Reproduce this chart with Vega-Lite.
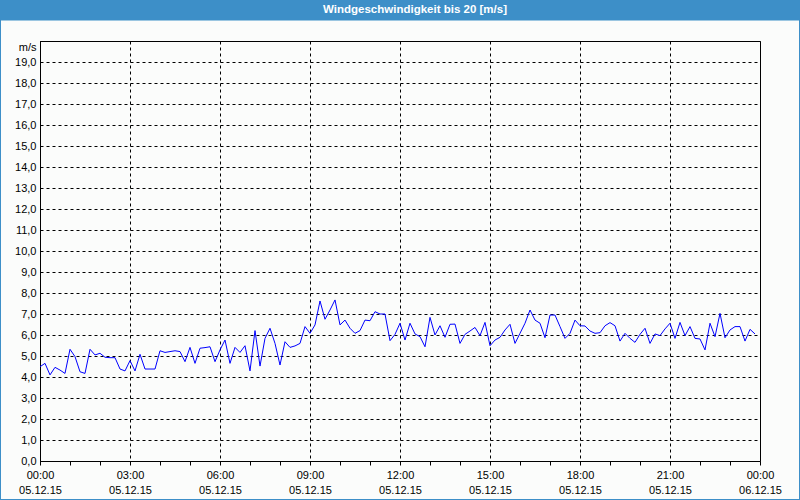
{
  "$schema": "https://vega.github.io/schema/vega-lite/v6.json",
  "background": "#fbfcfb",
  "width": 720,
  "height": 420,
  "autosize": {"type": "none"},
  "padding": {"left": 40, "top": 41, "right": 40, "bottom": 39},
  "config": {"font": "Liberation Sans", "view": {"stroke": "black"}},
  "layer": [
    {
      "data": {"values": [
        {"t": "2015-12-05T00:00:00Z", "v": 4.49},
        {"t": "2015-12-05T00:10:00Z", "v": 4.65},
        {"t": "2015-12-05T00:20:00Z", "v": 4.10},
        {"t": "2015-12-05T00:30:00Z", "v": 4.46},
        {"t": "2015-12-05T00:40:00Z", "v": 4.33},
        {"t": "2015-12-05T00:50:00Z", "v": 4.17},
        {"t": "2015-12-05T01:00:00Z", "v": 5.32},
        {"t": "2015-12-05T01:10:00Z", "v": 4.97},
        {"t": "2015-12-05T01:20:00Z", "v": 4.25},
        {"t": "2015-12-05T01:30:00Z", "v": 4.17},
        {"t": "2015-12-05T01:40:00Z", "v": 5.32},
        {"t": "2015-12-05T01:50:00Z", "v": 5.05},
        {"t": "2015-12-05T02:00:00Z", "v": 5.13},
        {"t": "2015-12-05T02:10:00Z", "v": 4.94},
        {"t": "2015-12-05T02:20:00Z", "v": 4.92},
        {"t": "2015-12-05T02:30:00Z", "v": 4.92},
        {"t": "2015-12-05T02:40:00Z", "v": 4.38},
        {"t": "2015-12-05T02:50:00Z", "v": 4.29},
        {"t": "2015-12-05T03:00:00Z", "v": 4.78},
        {"t": "2015-12-05T03:10:00Z", "v": 4.29},
        {"t": "2015-12-05T03:20:00Z", "v": 5.08},
        {"t": "2015-12-05T03:30:00Z", "v": 4.38},
        {"t": "2015-12-05T03:40:00Z", "v": 4.38},
        {"t": "2015-12-05T03:50:00Z", "v": 4.38},
        {"t": "2015-12-05T04:00:00Z", "v": 5.25},
        {"t": "2015-12-05T04:10:00Z", "v": 5.17},
        {"t": "2015-12-05T04:20:00Z", "v": 5.21},
        {"t": "2015-12-05T04:30:00Z", "v": 5.25},
        {"t": "2015-12-05T04:40:00Z", "v": 5.21},
        {"t": "2015-12-05T04:50:00Z", "v": 4.73},
        {"t": "2015-12-05T05:00:00Z", "v": 5.41},
        {"t": "2015-12-05T05:10:00Z", "v": 4.65},
        {"t": "2015-12-05T05:20:00Z", "v": 5.37},
        {"t": "2015-12-05T05:30:00Z", "v": 5.40},
        {"t": "2015-12-05T05:40:00Z", "v": 5.44},
        {"t": "2015-12-05T05:50:00Z", "v": 4.73},
        {"t": "2015-12-05T06:00:00Z", "v": 5.29},
        {"t": "2015-12-05T06:10:00Z", "v": 5.76},
        {"t": "2015-12-05T06:20:00Z", "v": 4.65},
        {"t": "2015-12-05T06:30:00Z", "v": 5.41},
        {"t": "2015-12-05T06:40:00Z", "v": 5.17},
        {"t": "2015-12-05T06:50:00Z", "v": 5.49},
        {"t": "2015-12-05T07:00:00Z", "v": 4.29},
        {"t": "2015-12-05T07:10:00Z", "v": 6.21},
        {"t": "2015-12-05T07:20:00Z", "v": 4.52},
        {"t": "2015-12-05T07:30:00Z", "v": 5.84},
        {"t": "2015-12-05T07:40:00Z", "v": 6.32},
        {"t": "2015-12-05T07:50:00Z", "v": 5.60},
        {"t": "2015-12-05T08:00:00Z", "v": 4.57},
        {"t": "2015-12-05T08:10:00Z", "v": 5.68},
        {"t": "2015-12-05T08:20:00Z", "v": 5.41},
        {"t": "2015-12-05T08:30:00Z", "v": 5.48},
        {"t": "2015-12-05T08:40:00Z", "v": 5.60},
        {"t": "2015-12-05T08:50:00Z", "v": 6.40},
        {"t": "2015-12-05T09:00:00Z", "v": 6.08},
        {"t": "2015-12-05T09:10:00Z", "v": 6.48},
        {"t": "2015-12-05T09:20:00Z", "v": 7.62},
        {"t": "2015-12-05T09:30:00Z", "v": 6.75},
        {"t": "2015-12-05T09:40:00Z", "v": 7.19},
        {"t": "2015-12-05T09:50:00Z", "v": 7.67},
        {"t": "2015-12-05T10:00:00Z", "v": 6.48},
        {"t": "2015-12-05T10:10:00Z", "v": 6.71},
        {"t": "2015-12-05T10:20:00Z", "v": 6.32},
        {"t": "2015-12-05T10:30:00Z", "v": 6.08},
        {"t": "2015-12-05T10:40:00Z", "v": 6.21},
        {"t": "2015-12-05T10:50:00Z", "v": 6.71},
        {"t": "2015-12-05T11:00:00Z", "v": 6.68},
        {"t": "2015-12-05T11:10:00Z", "v": 7.11},
        {"t": "2015-12-05T11:20:00Z", "v": 7.00},
        {"t": "2015-12-05T11:30:00Z", "v": 7.00},
        {"t": "2015-12-05T11:40:00Z", "v": 5.73},
        {"t": "2015-12-05T11:50:00Z", "v": 6.03},
        {"t": "2015-12-05T12:00:00Z", "v": 6.56},
        {"t": "2015-12-05T12:10:00Z", "v": 5.76},
        {"t": "2015-12-05T12:20:00Z", "v": 6.56},
        {"t": "2015-12-05T12:30:00Z", "v": 6.05},
        {"t": "2015-12-05T12:40:00Z", "v": 5.92},
        {"t": "2015-12-05T12:50:00Z", "v": 5.44},
        {"t": "2015-12-05T13:00:00Z", "v": 6.84},
        {"t": "2015-12-05T13:10:00Z", "v": 6.00},
        {"t": "2015-12-05T13:20:00Z", "v": 6.44},
        {"t": "2015-12-05T13:30:00Z", "v": 5.89},
        {"t": "2015-12-05T13:40:00Z", "v": 6.51},
        {"t": "2015-12-05T13:50:00Z", "v": 6.52},
        {"t": "2015-12-05T14:00:00Z", "v": 5.60},
        {"t": "2015-12-05T14:10:00Z", "v": 6.03},
        {"t": "2015-12-05T14:20:00Z", "v": 6.19},
        {"t": "2015-12-05T14:30:00Z", "v": 6.36},
        {"t": "2015-12-05T14:40:00Z", "v": 5.97},
        {"t": "2015-12-05T14:50:00Z", "v": 6.60},
        {"t": "2015-12-05T15:00:00Z", "v": 5.49},
        {"t": "2015-12-05T15:10:00Z", "v": 5.76},
        {"t": "2015-12-05T15:20:00Z", "v": 5.89},
        {"t": "2015-12-05T15:30:00Z", "v": 6.24},
        {"t": "2015-12-05T15:40:00Z", "v": 6.51},
        {"t": "2015-12-05T15:50:00Z", "v": 5.60},
        {"t": "2015-12-05T16:00:00Z", "v": 6.08},
        {"t": "2015-12-05T16:10:00Z", "v": 6.56},
        {"t": "2015-12-05T16:20:00Z", "v": 7.19},
        {"t": "2015-12-05T16:30:00Z", "v": 6.71},
        {"t": "2015-12-05T16:40:00Z", "v": 6.56},
        {"t": "2015-12-05T16:50:00Z", "v": 5.87},
        {"t": "2015-12-05T17:00:00Z", "v": 6.95},
        {"t": "2015-12-05T17:10:00Z", "v": 6.95},
        {"t": "2015-12-05T17:20:00Z", "v": 6.40},
        {"t": "2015-12-05T17:30:00Z", "v": 5.84},
        {"t": "2015-12-05T17:40:00Z", "v": 6.08},
        {"t": "2015-12-05T17:50:00Z", "v": 6.71},
        {"t": "2015-12-05T18:00:00Z", "v": 6.44},
        {"t": "2015-12-05T18:10:00Z", "v": 6.43},
        {"t": "2015-12-05T18:20:00Z", "v": 6.19},
        {"t": "2015-12-05T18:30:00Z", "v": 6.08},
        {"t": "2015-12-05T18:40:00Z", "v": 6.11},
        {"t": "2015-12-05T18:50:00Z", "v": 6.44},
        {"t": "2015-12-05T19:00:00Z", "v": 6.59},
        {"t": "2015-12-05T19:10:00Z", "v": 6.44},
        {"t": "2015-12-05T19:20:00Z", "v": 5.71},
        {"t": "2015-12-05T19:30:00Z", "v": 6.08},
        {"t": "2015-12-05T19:40:00Z", "v": 5.84},
        {"t": "2015-12-05T19:50:00Z", "v": 5.65},
        {"t": "2015-12-05T20:00:00Z", "v": 6.03},
        {"t": "2015-12-05T20:10:00Z", "v": 6.32},
        {"t": "2015-12-05T20:20:00Z", "v": 5.60},
        {"t": "2015-12-05T20:30:00Z", "v": 6.05},
        {"t": "2015-12-05T20:40:00Z", "v": 5.97},
        {"t": "2015-12-05T20:50:00Z", "v": 6.29},
        {"t": "2015-12-05T21:00:00Z", "v": 6.56},
        {"t": "2015-12-05T21:10:00Z", "v": 5.84},
        {"t": "2015-12-05T21:20:00Z", "v": 6.60},
        {"t": "2015-12-05T21:30:00Z", "v": 5.97},
        {"t": "2015-12-05T21:40:00Z", "v": 6.40},
        {"t": "2015-12-05T21:50:00Z", "v": 5.84},
        {"t": "2015-12-05T22:00:00Z", "v": 5.81},
        {"t": "2015-12-05T22:10:00Z", "v": 5.29},
        {"t": "2015-12-05T22:20:00Z", "v": 6.56},
        {"t": "2015-12-05T22:30:00Z", "v": 5.92},
        {"t": "2015-12-05T22:40:00Z", "v": 7.03},
        {"t": "2015-12-05T22:50:00Z", "v": 5.87},
        {"t": "2015-12-05T23:00:00Z", "v": 6.24},
        {"t": "2015-12-05T23:10:00Z", "v": 6.40},
        {"t": "2015-12-05T23:20:00Z", "v": 6.40},
        {"t": "2015-12-05T23:30:00Z", "v": 5.71},
        {"t": "2015-12-05T23:40:00Z", "v": 6.27},
        {"t": "2015-12-05T23:50:00Z", "v": 6.05}
      ]},
      "mark": {"type": "line", "color": "#0000ff", "strokeWidth": 1},
      "encoding": {
        "x": {
          "field": "t",
          "type": "temporal",
          "scale": {"type": "utc", "nice": false, "domain": [1449273600000, 1449360000000]},
          "axis": {
            "title": null,
            "tickCount": 24,
            "labelExpr": "utchours(datum.value) % 3 == 0 ? [utcFormat(datum.value, '%H:%M'), utcFormat(datum.value, '%d.%m.%y')] : ''",
            "labelOverlap": false,
            "labelFlush": false,
            "labelAlign": "center",
            "labelBaseline": "top",
            "labelLineHeight": 15,
            "labelPadding": 4,
            "labelColor": "black",
            "labelFontSize": 11,
            "labelFont": "Liberation Sans",
            "tickSize": 4,
            "tickColor": "black",
            "domainColor": "black",
            "grid": true,
            "gridColor": "black",
            "gridDash": [3, 3],
            "gridOpacity": {"condition": {"test": "utchours(datum.value) % 3 == 0", "value": 1}, "value": 0}
          }
        },
        "y": {
          "field": "v",
          "type": "quantitative",
          "scale": {"domain": [0, 20], "nice": false},
          "axis": {
            "title": "m/s",
            "titleAngle": 0,
            "titleAlign": "right",
            "titleBaseline": "middle",
            "titleX": -4,
            "titleY": 6,
            "titleFontWeight": "normal",
            "titleFontSize": 11,
            "titleFont": "Liberation Sans",
            "titleColor": "black",
            "tickCount": 20,
            "labelExpr": "datum.value >= 20 ? '' : replace(format(datum.value, '.1f'), '.', ',')",
            "labelOverlap": false,
            "labelFontSize": 11,
            "labelFont": "Liberation Sans",
            "labelColor": "black",
            "labelPadding": 4,
            "ticks": false,
            "domainColor": "black",
            "grid": true,
            "gridColor": "black",
            "gridDash": [3, 3]
          }
        }
      }
    },
    {
      "data": {"values": [{"title": "Windgeschwindigkeit bis 20 [m/s]"}]},
      "mark": {"type": "rect", "color": "#3d8fc8", "clip": false},
      "encoding": {
        "x": {"datum": 1449268800000, "type": "temporal"},
        "x2": {"datum": 1449364800000},
        "y": {"datum": 20.98, "type": "quantitative"},
        "y2": {"datum": 22}
      }
    },
    {
      "data": {"values": [{"title": "Windgeschwindigkeit bis 20 [m/s]"}]},
      "mark": {"type": "rect", "fill": null, "stroke": "#3d8fc8", "strokeWidth": 2, "clip": false},
      "encoding": {
        "x": {"datum": 1449268800000, "type": "temporal"},
        "x2": {"datum": 1449364800000},
        "y": {"datum": -1.857, "type": "quantitative"},
        "y2": {"datum": 22}
      }
    },
    {
      "data": {"values": [{"title": "Windgeschwindigkeit bis 20 [m/s]"}]},
      "mark": {"type": "text", "color": "white", "fontWeight": "bold", "fontSize": 11.5, "baseline": "middle", "dx": 15, "clip": false, "font": "Liberation Sans"},
      "encoding": {
        "x": {"datum": 1449316800000, "type": "temporal"},
        "y": {"datum": 21.47, "type": "quantitative"},
        "text": {"field": "title", "type": "nominal"}
      }
    }
  ]
}
